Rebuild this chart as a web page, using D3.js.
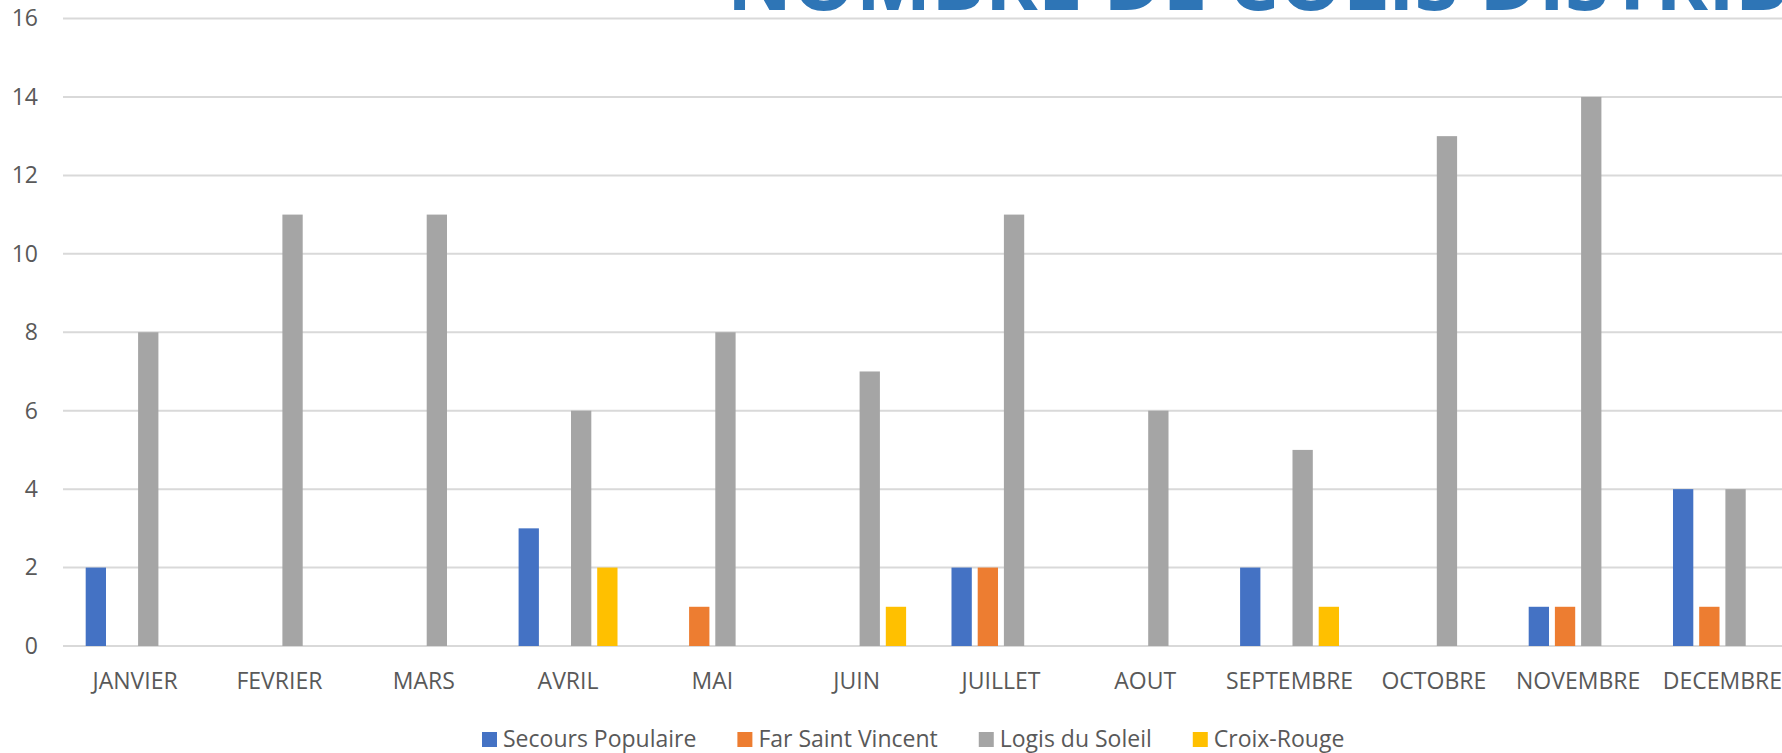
<!DOCTYPE html>
<html>
<head>
<meta charset="utf-8">
<script src="https://cdn.jsdelivr.net/npm/d3@7"></script>
<style>
  body { margin: 0; background: #fff; overflow: hidden; }
  text { font-family: "Open Sans", "Noto Sans", sans-serif; }
</style>
</head>
<body>
<svg id="chart" width="1782" height="753"></svg>
<script>
// données
var mois = ["JANVIER", "FEVRIER", "MARS", "AVRIL", "MAI", "JUIN", "JUILLET", "AOUT", "SEPTEMBRE", "OCTOBRE", "NOVEMBRE", "DECEMBRE"];
var series = ["Secours Populaire", "Far Saint Vincent", "Logis du Soleil", "Croix-Rouge"];
var secoursPopulaire = [2, 0, 0, 3, 0, 0, 2, 0, 2, 0, 1, 4];
var farSaintVincent  = [0, 0, 0, 0, 1, 0, 2, 0, 0, 0, 1, 1];
var logisDuSoleil    = [8, 11, 11, 6, 8, 7, 11, 6, 5, 13, 14, 4];
var croixRouge       = [0, 0, 0, 2, 0, 1, 0, 0, 1, 0, 0, 0];
var yTicks = [0, 2, 4, 6, 8, 10, 12, 14, 16];
var couleurs = ["#4472C4", "#ED7D31", "#A5A5A5", "#FFC000"];
var titre = "NOMBRE DE COLIS DISTRIBUÉS";

var valeurs = [secoursPopulaire, farSaintVincent, logisDuSoleil, croixRouge];

var svg = d3.select("#chart"),
    width = +svg.attr("width"),
    height = +svg.attr("height");

var x0 = d3.scaleBand()
    .domain(mois)
    .range([63, 63 + 12 * 144.3]);

var x1 = d3.scaleBand()
    .domain(series)
    .range([0, x0.bandwidth()])
    .paddingInner(0.225)
    .paddingOuter(0.866);

var y = d3.scaleLinear()
    .domain([0, 16])
    .range([646, 18.5]);

var color = d3.scaleOrdinal().domain(series).range(couleurs);

// grille horizontale
svg.append("g")
    .selectAll("line")
    .data(yTicks)
    .enter().append("line")
      .attr("x1", x0.range()[0])
      .attr("x2", x0.range()[1])
      .attr("y1", function(d) { return y(d); })
      .attr("y2", function(d) { return y(d); })
      .attr("stroke", "#d9d9d9")
      .attr("stroke-width", 2);

// titre (coupé en haut comme sur l'image)
svg.append("text")
    .attr("x", 727)
    .attr("y", 10)
    .attr("fill", "#2E75B6")
    .attr("font-size", 80)
    .attr("font-weight", "bold")
    .text(titre);

// axe Y
var yAxis = d3.axisLeft(y).tickValues(yTicks).tickSize(0).tickPadding(0);
var gy = svg.append("g")
    .attr("transform", "translate(38,0)")
    .call(yAxis);
gy.select(".domain").remove();
gy.selectAll("text")
    .attr("fill", "#595959")
    .attr("font-size", 23)
    .attr("font-family", "Open Sans");

// axe X
var xAxis = d3.axisBottom(x0).tickSize(0).tickPadding(0);
var gx = svg.append("g")
    .attr("transform", "translate(0,689)")
    .call(xAxis);
gx.select(".domain").remove();
gx.selectAll("text")
    .attr("fill", "#595959")
    .attr("font-size", 23)
    .attr("font-family", "Open Sans")
    .attr("dy", 0);

// barres
var groupes = svg.append("g")
    .selectAll("g")
    .data(mois)
    .enter().append("g")
      .attr("transform", function(d) { return "translate(" + x0(d) + ",0)"; });

groupes.selectAll("rect")
    .data(function(d, i) { return series.map(function(s, j) { return {serie: s, valeur: valeurs[j][i]}; }); })
    .enter().append("rect")
      .attr("x", function(d) { return x1(d.serie); })
      .attr("width", x1.bandwidth())
      .attr("y", function(d) { return y(d.valeur); })
      .attr("height", function(d) { return y(0) - y(d.valeur); })
      .attr("fill", function(d) { return color(d.serie); });

// légende
var legende = svg.append("g");
var lx = 482;
series.forEach(function(s) {
    legende.append("rect")
        .attr("x", lx)
        .attr("y", 732)
        .attr("width", 15)
        .attr("height", 15)
        .attr("fill", color(s));
    var t = legende.append("text")
        .attr("x", lx + 21)
        .attr("y", 747)
        .attr("fill", "#595959")
        .attr("font-size", 23)
        .text(s);
    lx += 21 + t.node().getComputedTextLength() + 41;
});
</script>
</body>
</html>
